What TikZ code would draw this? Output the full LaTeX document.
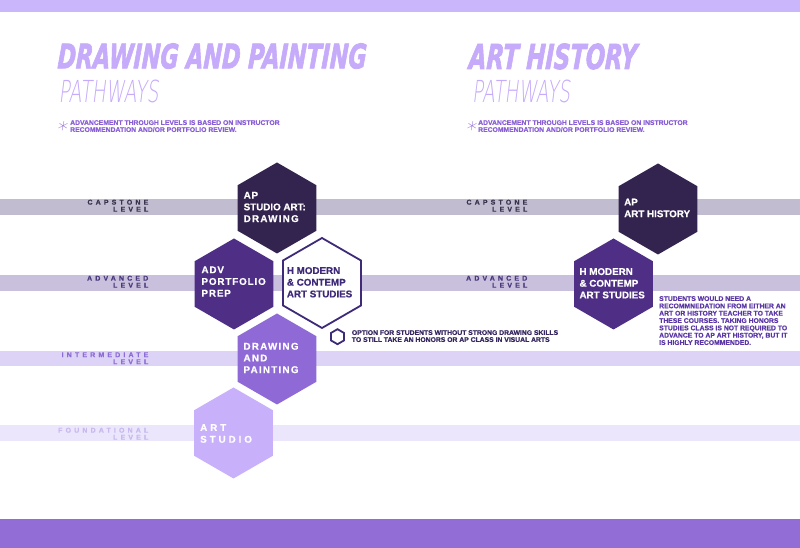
\documentclass[tikz,border=0pt]{standalone}
\usepackage{fontspec}
\usepackage{graphicx}
\setmainfont{Liberation Sans}[BoldFeatures={FakeBold=0.6}]
\newfontfamily\titlefont{DejaVu Sans}[BoldItalicFeatures={FakeBold=2.5,FakeSlant=0.08}]
\newfontfamily\thinfont{DejaVu Sans ExtraLight}[FakeSlant=0.2]
\definecolor{topbar}{HTML}{C9B6FB}
\definecolor{botbar}{HTML}{926DD6}
\definecolor{bandcap}{HTML}{C1BCCF}
\definecolor{bandadv}{HTML}{C9C0DD}
\definecolor{bandint}{HTML}{DCD3F6}
\definecolor{bandfnd}{HTML}{ECE6FC}
\definecolor{hexcap}{HTML}{33234F}
\definecolor{hexadv}{HTML}{4F2F85}
\definecolor{hexint}{HTML}{8F6AD6}
\definecolor{hexfnd}{HTML}{C8B1FA}
\definecolor{hexline}{HTML}{3E2A78}
\definecolor{titlepurple}{HTML}{C6ABFA}
\definecolor{notepurple}{HTML}{8A5FD6}
\definecolor{lblcap}{HTML}{3A3350}
\definecolor{lbladv}{HTML}{4A3A7C}
\definecolor{lblint}{HTML}{8C6CD5}
\definecolor{lblfnd}{HTML}{C7B8EE}
\definecolor{notedark}{HTML}{36275F}
\definecolor{histnote}{HTML}{5B37A6}
\def\hexshape#1#2{(#1) +(90:#2) -- +(150:#2) -- +(210:#2) -- +(270:#2) -- +(330:#2) -- +(30:#2) -- cycle}
\def\spaced#1#2{{\addfontfeature{LetterSpace=#1}#2}}

\begin{document}
\begin{tikzpicture}[x=1pt,y=1pt,
    hextext/.style={text=white,align=left,anchor=west,inner sep=0pt,font=\bfseries\fontsize{9.8}{11.7}\selectfont},
    lvl/.style={align=right,anchor=east,inner sep=0pt,font=\bfseries\fontsize{7}{7}\selectfont\addfontfeature{LetterSpace=45}},
    smallnote/.style={align=left,anchor=north west,inner sep=0pt,font=\bfseries\fontsize{6.8}{7}\selectfont},
    bigtitle/.style={anchor=base west,inner sep=0pt,text=titlepurple}]
\useasboundingbox (0,0) rectangle (800,548);
\fill[topbar] (0,536) rectangle (800,548);
\fill[botbar] (0,0) rectangle (800,29);
% level bands
\fill[bandcap] (0,333) rectangle (800,349);
\fill[bandadv] (0,257) rectangle (800,273);
\fill[bandint] (0,182) rectangle (800,197);
\fill[bandfnd] (0,107) rectangle (800,123);
% titles
\node[bigtitle] (dptitle) at (57,479.7) {\resizebox{309pt}{25pt}{\titlefont\bfseries\itshape DRAWING AND PAINTING}};
\node[bigtitle] (dppath) at (58.3,445.7) {\resizebox{100pt}{22.5pt}{\thinfont PATHWAYS}};
\node[bigtitle] (ahtitle) at (468.3,479) {\resizebox{168pt}{25.5pt}{\titlefont\bfseries\itshape ART HISTORY}};
\node[bigtitle] (ahpath) at (472,445.5) {\resizebox{98pt}{22.5pt}{\thinfont PATHWAYS}};
\node[anchor=north,inner sep=0pt,text=notepurple,font=\thinfont\fontsize{20}{20}\selectfont] (dpstar) at (61,427) {*};
\node[anchor=north,inner sep=0pt,text=notepurple,font=\thinfont\fontsize{20}{20}\selectfont] (ahstar) at (470,427) {*};
\node[smallnote,text=notepurple] (dpnote) at (70,428) {ADVANCEMENT THROUGH LEVELS IS BASED ON INSTRUCTOR\\RECOMMENDATION AND/OR PORTFOLIO REVIEW.};
\node[smallnote,text=notepurple] (ahnote) at (478,428) {ADVANCEMENT THROUGH LEVELS IS BASED ON INSTRUCTOR\\RECOMMENDATION AND/OR PORTFOLIO REVIEW.};
% level labels
\node[lvl,text=lblcap] (dpcap) at (148.5,342.3) {CAPSTONE\\LEVEL};
\node[lvl,text=lbladv] (dpadv) at (148.5,266.3) {ADVANCED\\LEVEL};
\node[lvl,text=lblint] (dpint) at (148.5,189.7) {INTERMEDIATE\\LEVEL};
\node[lvl,text=lblfnd] (dpfnd) at (148.5,114.3) {FOUNDATIONAL\\LEVEL};
\node[lvl,text=lblcap] (ahcap) at (527.5,342.3) {CAPSTONE\\LEVEL};
\node[lvl,text=lbladv] (ahadv) at (527.5,266.3) {ADVANCED\\LEVEL};
% hexagons
\fill[hexcap] \hexshape{277,340}{45.5};
\fill[hexadv] \hexshape{234,264}{45.5};
\draw[hexline,fill=white,line width=1.8pt] \hexshape{322,265}{45};
\fill[hexint] \hexshape{277,189}{45.5};
\fill[hexfnd] \hexshape{233.5,115}{45.5};
\fill[hexcap] \hexshape{658,339}{45.5};
\fill[hexadv] \hexshape{613.5,264}{45.5};
\draw[hexline,line width=1.8pt] \hexshape{337.5,211.3}{7.5};
% course names
\node[hextext] (apdraw) at (243.5,341) {\spaced{8}{AP}\\STUDIO ART:\\\spaced{13}{DRAWING}};
\node[hextext] (advport) at (201.3,266.5) {\spaced{9}{ADV}\\\spaced{9}{PORTFOLIO}\\\spaced{9}{PREP}};
\node[hextext,text=hexline] (hmod) at (286.7,265.7) {H MODERN\\\& CONTEMP\\ART STUDIES};
\node[hextext] (drawpaint) at (243.3,190) {\spaced{13}{DRAWING}\\\spaced{13}{AND}\\\spaced{13}{PAINTING}};
\node[hextext] (artstudio) at (200,114.5) {\spaced{30}{ART}\\\spaced{30}{STUDIO}};
\node[hextext] (aphist) at (624,340) {AP\\ART HISTORY};
\node[hextext] (hmodhist) at (579.3,264.7) {H MODERN\\\& CONTEMP\\ART STUDIES};
% side notes
\node[smallnote,text=notedark] (optnote) at (351.7,218) {OPTION FOR STUDENTS WITHOUT STRONG DRAWING SKILLS\\TO STILL TAKE AN HONORS OR AP CLASS IN VISUAL ARTS};
\node[smallnote,text=histnote,font=\bfseries\fontsize{6.8}{7.33}\selectfont] (histnote) at (659,252) {STUDENTS WOULD NEED A\\RECOMMNEDATION FROM EITHER AN\\ART OR HISTORY TEACHER TO TAKE\\THESE COURSES. TAKING HONORS\\STUDIES CLASS IS NOT REQUIRED TO\\ADVANCE TO AP ART HISTORY, BUT IT\\IS HIGHLY RECOMMENDED.};
\end{tikzpicture}
\end{document}
